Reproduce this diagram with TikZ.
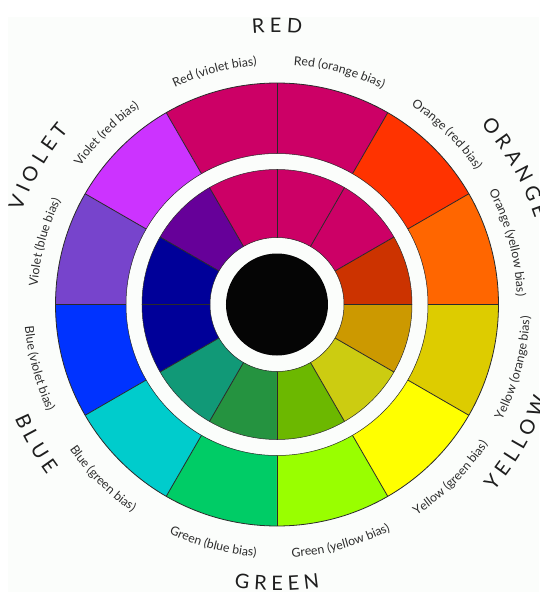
\documentclass[tikz,border=0pt]{standalone}
\usepackage{fontspec}
\setmainfont{Lato}
\newfontfamily\lblfont{Lato}
\usetikzlibrary{decorations.text}
\definecolor{bgtint}{HTML}{FBFDFB}
\definecolor{txtcol}{HTML}{2C2C2C}
\definecolor{bigcol}{HTML}{1E1E1E}
\definecolor{edgecol}{HTML}{2A2A2A}
% outer ring
\definecolor{oYB}{HTML}{FF6600}
\definecolor{oRB}{HTML}{FF3300}
\definecolor{oRed}{HTML}{CC0066}
\definecolor{oVR}{HTML}{CC33FF}
\definecolor{oVB}{HTML}{7744CC}
\definecolor{oBV}{HTML}{0033FF}
\definecolor{oBG}{HTML}{00CCCC}
\definecolor{oGB}{HTML}{00CC66}
\definecolor{oGY}{HTML}{99FF00}
\definecolor{oYG}{HTML}{FFFF00}
\definecolor{oYO}{HTML}{DDCC00}
% inner ring
\definecolor{iA}{HTML}{CC3300}
\definecolor{iB}{HTML}{CC0066}
\definecolor{iC}{HTML}{660099}
\definecolor{iD}{HTML}{000099}
\definecolor{iE}{HTML}{119977}
\definecolor{iF}{HTML}{259340}
\definecolor{iG}{HTML}{6CB800}
\definecolor{iH}{HTML}{CCCC11}
\definecolor{iI}{HTML}{CC9900}
\newcommand\ringsector[5]{%
  \fill[#5] (#3:#1) arc[start angle=#3,end angle=#4,radius=#1]
    -- (#4:#2) arc[start angle=#4,end angle=#3,radius=#2] -- cycle;}
\newcommand\smallfmt{\lblfont\fontsize{12.3}{14}\selectfont}
\newcommand\bigfmt{\lblfont\fontsize{20}{22}\selectfont}
\newcommand\toplabel[4]{%
  \path[decorate,decoration={text along path,text align=center,text color=#4,
      text={#3}}]
    (#1+35:#2) arc[start angle=#1+35,end angle=#1-35,radius=#2];}
\newcommand\botlabel[4]{%
  \path[decorate,decoration={text along path,text align=center,text color=#4,
      text={#3}}]
    (#1-35:#2) arc[start angle=#1-35,end angle=#1+35,radius=#2];}
\begin{document}
\begin{tikzpicture}[x=1pt,y=1pt]
\tikzset{edge/.style={draw=edgecol,line width=0.8pt}}
\useasboundingbox (-277,-287.5) rectangle (262,304.5);
\fill[bgtint] (-269,-287.5) rectangle (262,287.5);
% outer ring
\foreach \a/\c in {0/oYB,30/oRB,60/oRed,90/oRed,120/oVR,150/oVB,180/oBV,210/oBG,240/oGB,270/oGY,300/oYG,330/oYO}
  {\ringsector{151pt}{221.5pt}{\a}{\a+30}{\c}}
% inner ring
\foreach \a/\c in {0/iA,30/iB,60/iB,90/iB,120/iC,150/iD,180/iD,210/iE,240/iF,270/iG,300/iH,330/iI}
  {\ringsector{67pt}{135pt}{\a}{\a+30}{\c}}
% dividers
\foreach \a in {0,30,...,330}{
  \draw[edge] (\a:151pt) -- (\a:221.5pt);
  \draw[edge] (\a:67pt) -- (\a:135pt);
}
\draw[edge] (0,0) circle[radius=221.5pt];
\draw[edge,line width=0.5pt] (0,0) circle[radius=151pt];
\draw[edge,line width=0.5pt] (0,0) circle[radius=135pt];
\draw[edge,line width=0.5pt] (0,0) circle[radius=67pt];
\fill[black!98] (0,0) circle[radius=51pt];
% small labels
\toplabel{165}{240pt}{|\smallfmt|Violet (blue bias)}{txtcol}
\toplabel{135}{240pt}{|\smallfmt|Violet (red bias)}{txtcol}
\toplabel{105}{240pt}{|\smallfmt|Red (violet bias)}{txtcol}
\toplabel{75}{240pt}{|\smallfmt|Red (orange bias)}{txtcol}
\toplabel{45}{240pt}{|\smallfmt|Orange (red bias)}{txtcol}
\toplabel{15}{240pt}{|\smallfmt|Orange (yellow bias)}{txtcol}
\botlabel{195}{253pt}{|\smallfmt|Blue (violet bias)}{txtcol}
\botlabel{225}{253pt}{|\smallfmt|Blue (green bias)}{txtcol}
\botlabel{255}{253pt}{|\smallfmt|Green (blue bias)}{txtcol}
\botlabel{285}{253pt}{|\smallfmt|Green (yellow bias)}{txtcol}
\botlabel{315}{253pt}{|\smallfmt|Yellow (green bias)}{txtcol}
\botlabel{345}{253pt}{|\smallfmt|Yellow (orange bias)}{txtcol}
% big labels
\toplabel{90}{272pt}{|\bigfmt|R E D}{bigcol}
\toplabel{30}{272pt}{|\bigfmt|O R A N G E}{bigcol}
\toplabel{150}{272pt}{|\bigfmt|V I O L E T}{bigcol}
\botlabel{330}{286pt}{|\bigfmt|Y E L L O W}{bigcol}
\botlabel{270}{286pt}{|\bigfmt|G R E E N}{bigcol}
\botlabel{210}{286pt}{|\bigfmt|B L U E}{bigcol}
\end{tikzpicture}
\end{document}
